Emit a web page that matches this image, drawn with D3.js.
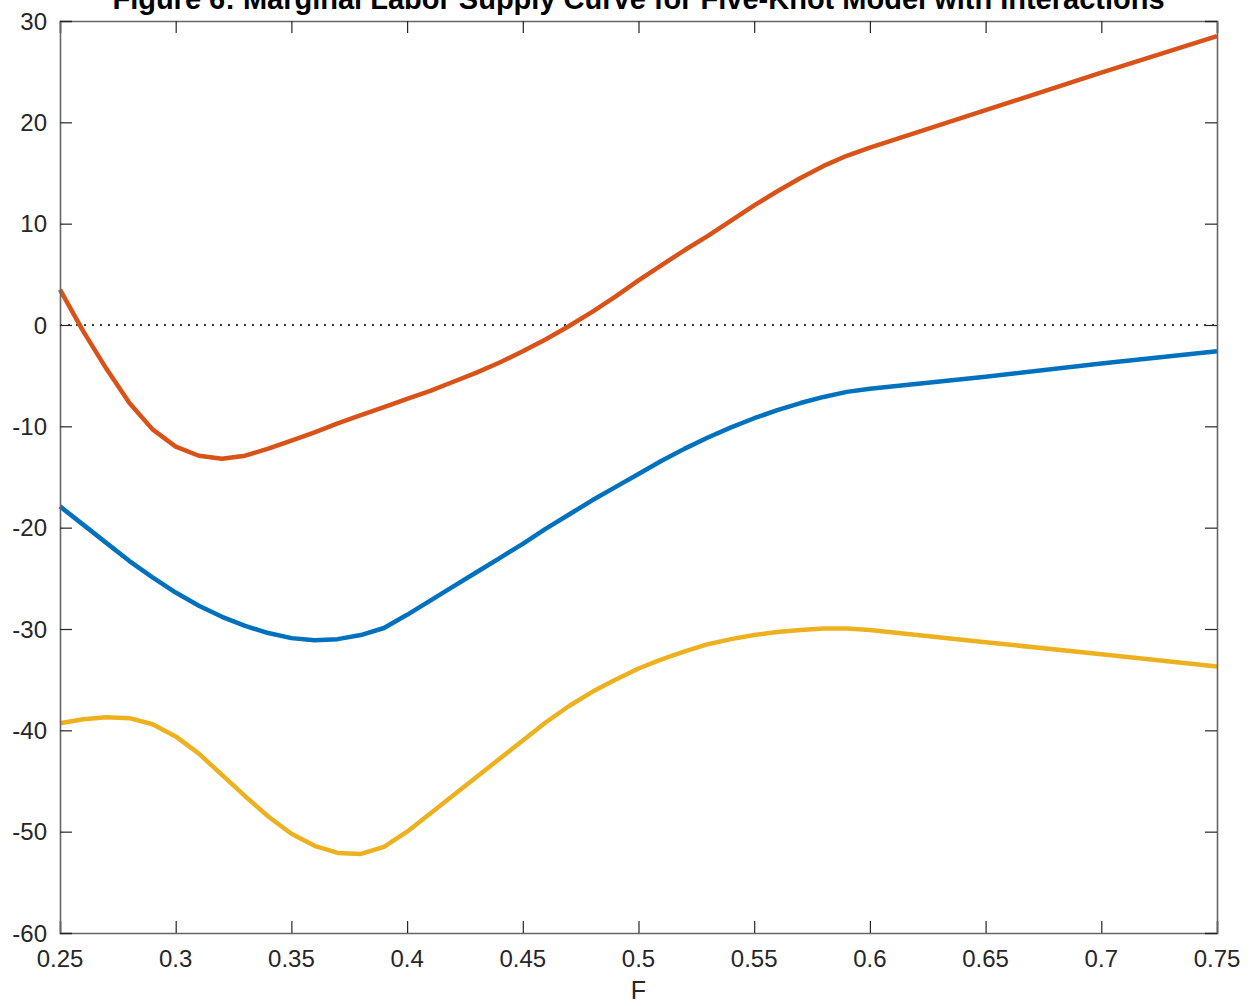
<!DOCTYPE html>
<html>
<head>
<meta charset="utf-8">
<script src="https://cdn.jsdelivr.net/npm/d3@7"></script>
<style>
  body { margin: 0; background: #fff; }
  text { font-family: "Liberation Sans", Arial, Helvetica, sans-serif; }
</style>
</head>
<body>
<svg id="chart" width="1257" height="1006"></svg>
<script>
// Share of workers F at which the marginal labor supply is evaluated
const F = [0.25, 0.26, 0.27, 0.28, 0.29, 0.30, 0.31, 0.32, 0.33, 0.34,
           0.35, 0.36, 0.37, 0.38, 0.39, 0.40, 0.41, 0.42, 0.43, 0.44,
           0.45, 0.46, 0.47, 0.48, 0.49, 0.50, 0.51, 0.52, 0.53, 0.54,
           0.55, 0.56, 0.57, 0.58, 0.59, 0.60, 0.65, 0.70, 0.75];

// Point estimate of the marginal labor supply curve
const mlsEstimate = [-17.9, -19.7, -21.5, -23.3, -24.9, -26.4, -27.7, -28.8, -29.7, -30.4,
                     -30.9, -31.1, -31.0, -30.6, -29.9, -28.6, -27.2, -25.8, -24.4, -23.0,
                     -21.6, -20.1, -18.7, -17.3, -16.0, -14.7, -13.4, -12.2, -11.1, -10.1,
                     -9.2, -8.4, -7.7, -7.1, -6.6, -6.3, -5.1, -3.8, -2.6];

// Upper bound
const mlsUpper = [3.5, -0.6, -4.3, -7.7, -10.3, -12.0, -12.9, -13.2, -12.9, -12.2,
                  -11.4, -10.6, -9.7, -8.9, -8.1, -7.3, -6.5, -5.6, -4.7, -3.7,
                  -2.6, -1.4, -0.1, 1.3, 2.8, 4.4, 5.9, 7.4, 8.8, 10.3,
                  11.8, 13.2, 14.5, 15.7, 16.7, 17.5, 21.2, 24.9, 28.5];

// Lower bound
const mlsLower = [-39.3, -38.9, -38.7, -38.8, -39.4, -40.6, -42.3, -44.4, -46.5, -48.5,
                  -50.2, -51.4, -52.1, -52.2, -51.5, -50.0, -48.2, -46.4, -44.6, -42.8,
                  -41.0, -39.2, -37.6, -36.2, -35.0, -33.9, -33.0, -32.2, -31.5, -31.0,
                  -30.6, -30.3, -30.1, -29.95, -29.95, -30.1, -31.3, -32.5, -33.7];

const xTicks = [0.25, 0.3, 0.35, 0.4, 0.45, 0.5, 0.55, 0.6, 0.65, 0.7, 0.75];
const xTickLabels = ["0.25", "0.3", "0.35", "0.4", "0.45", "0.5", "0.55", "0.6", "0.65", "0.7", "0.75"];
const yTicks = [-60, -50, -40, -30, -20, -10, 0, 10, 20, 30];
const yTickLabels = ["-60", "-50", "-40", "-30", "-20", "-10", "0", "10", "20", "30"];

const titleText = "Figure 6: Marginal Labor Supply Curve for Five-Knot Model with Interactions";
const xLabel = "F";

const svg = d3.select("#chart");
const plotLeft = 60, plotRight = 1217, plotTop = 21, plotBottom = 933;

const x = d3.scaleLinear().domain([0.25, 0.75]).range([plotLeft, plotRight]);
const y = d3.scaleLinear().domain([-60, 30]).range([plotBottom, plotTop]);

const tickColor = "#262626";
const tickLen = 12;
const fontSize = 24;

// Zero reference line
svg.append("line")
  .attr("x1", x(0.25)).attr("x2", x(0.75))
  .attr("y1", y(0)).attr("y2", y(0))
  .attr("stroke", "#000").attr("stroke-width", 1.4)
  .attr("stroke-dasharray", "2,6");

// Curves
const line = d3.line().x(d => x(d[0])).y(d => y(d[1]));
const curves = [
  { values: mlsEstimate, color: "#0072BD" },
  { values: mlsUpper, color: "#D95319" },
  { values: mlsLower, color: "#EDB120" }
];
curves.forEach(c => {
  svg.append("path")
    .datum(F.map((f, i) => [f, c.values[i]]))
    .attr("d", line)
    .attr("fill", "none")
    .attr("stroke", c.color)
    .attr("stroke-width", 4.5)
    .attr("stroke-linejoin", "round");
});

// Box frame with inward ticks on all four sides
const bottomAxis = d3.axisBottom(x).tickValues(xTicks).tickSize(-tickLen).tickFormat(() => "");
const topAxis = d3.axisTop(x).tickValues(xTicks).tickSize(-tickLen).tickFormat(() => "");
const leftAxis = d3.axisLeft(y).tickValues(yTicks).tickSize(-tickLen).tickFormat(() => "");
const rightAxis = d3.axisRight(y).tickValues(yTicks).tickSize(-tickLen).tickFormat(() => "");

function styleAxis(g) {
  g.select(".domain").attr("stroke", "#666").attr("stroke-width", 1.6);
  g.selectAll(".tick line").attr("stroke", tickColor).attr("stroke-width", 1.2);
}
svg.append("g").attr("transform", `translate(0,${plotBottom})`).call(bottomAxis).call(styleAxis);
svg.append("g").attr("transform", `translate(0,${plotTop})`).call(topAxis).call(styleAxis);
svg.append("g").attr("transform", `translate(${plotLeft},0)`).call(leftAxis).call(styleAxis);
svg.append("g").attr("transform", `translate(${plotRight},0)`).call(rightAxis).call(styleAxis);

// Tick labels
svg.append("g").selectAll("text").data(xTicks).join("text")
  .attr("x", d => x(d)).attr("y", 967)
  .attr("text-anchor", "middle")
  .attr("font-size", fontSize).attr("fill", tickColor)
  .text((d, i) => xTickLabels[i]);

svg.append("g").selectAll("text").data(yTicks).join("text")
  .attr("x", 47).attr("y", d => y(d) + 8.5)
  .attr("text-anchor", "end")
  .attr("font-size", fontSize).attr("fill", tickColor)
  .text((d, i) => yTickLabels[i]);

// Axis title
svg.append("text")
  .attr("x", (plotLeft + plotRight) / 2).attr("y", 999)
  .attr("text-anchor", "middle")
  .attr("font-size", 25).attr("fill", tickColor)
  .text(xLabel);

// Chart title, sitting against the top edge of the page
svg.append("text")
  .attr("x", (plotLeft + plotRight) / 2).attr("y", 9)
  .attr("text-anchor", "middle")
  .attr("font-size", 29).attr("font-weight", "bold").attr("fill", "#000")
  .text(titleText);
</script>
</body>
</html>
